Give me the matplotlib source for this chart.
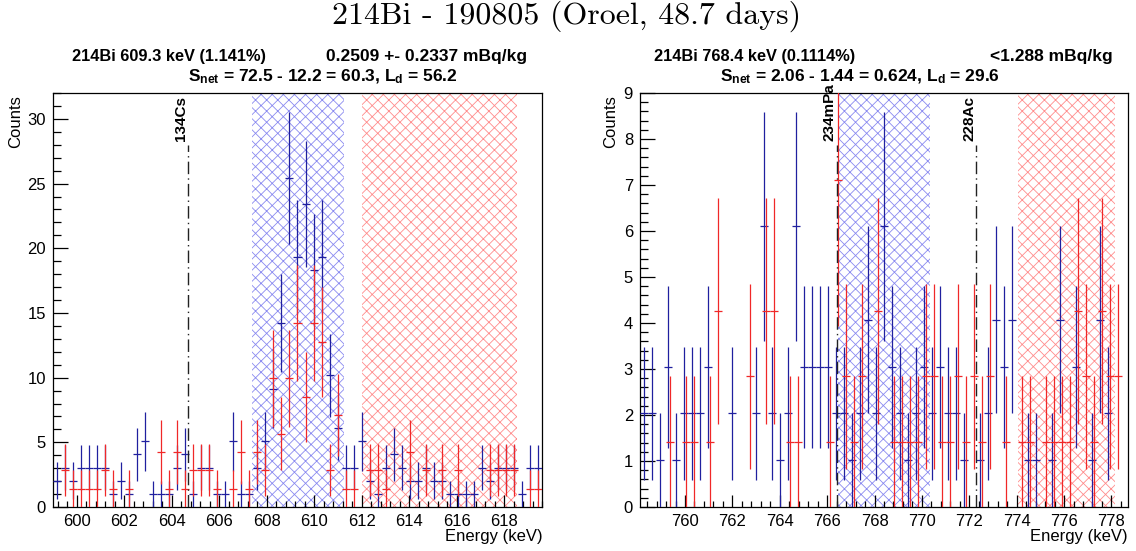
import numpy as np
import matplotlib
matplotlib.use('Agg')
import matplotlib.pyplot as plt
from matplotlib.ticker import MultipleLocator

plt.rcParams['font.family'] = ['Liberation Sans', 'DejaVu Sans']
plt.rcParams['mathtext.fontset'] = 'custom'
plt.rcParams['mathtext.rm'] = 'Liberation Sans'
plt.rcParams['mathtext.bf'] = 'Liberation Sans:bold'
plt.rcParams['mathtext.default'] = 'bf'
plt.rcParams['hatch.linewidth'] = 0.6

# ---------------- data ----------------
suptitle = '214Bi - 190805 (Oroel, 48.7 days)'

bin_width = 0.3377          # keV per bin
blue_scale = 1.017          # sample spectrum scaling
red_scale = 1.42            # background spectrum scaling

# Left panel: 609.3 keV
L_lo = 599.0
L_xlim = (599.0, 619.6)
L_ylim = (0, 32)
L_blue = [2, 3, 2, 3, 3, 3, 3, 1, 2, 1,
          4, 5, 1, 1, 1, 3, 4, 1, 3, 3,
          1, 1, 5, 1, 1, 3, 5, 9, 14, 25,
          19, 23, 18, 19, 10, 6, 3, 3, 5, 2,
          1, 3, 4, 3, 2, 2, 3, 2, 2, 1,
          1, 1, 1, 3, 2, 3, 3, 3, 1, 3,
          3]
L_red = [0, 2, 1, 1, 1, 1, 2, 1, 0, 1,
         0, 0, 0, 3, 1, 3, 1, 2, 2, 2,
         1, 0, 1, 3, 1, 3, 2, 7, 4, 7,
         10, 6, 10, 9, 2, 5, 1, 1, 0, 2,
         2, 1, 0, 0, 3, 0, 2, 0, 2, 0,
         2, 0, 0, 0, 2, 2, 2, 2, 0, 1,
         1]
L_red_shift = 0.0
L_peak_band = (607.4, 611.25)
L_bkg_band = (612.0, 618.55)
L_lines = [(604.7, '134Cs')]
L_head_left = '214Bi 609.3 keV (1.141%)'
L_head_right = '0.2509 +- 0.2337 mBq/kg'
L_head2 = r'$S_{net}$ = 72.5 - 12.2 = 60.3, $L_{d}$ = 56.2'

# Right panel: 768.4 keV
R_lo = 758.1
R_xlim = (758.1, 778.7)
R_ylim = (0, 9)
R_blue = [2, 2, 1, 3, 1, 2, 2, 2, 3, 0,
          0, 2, 0, 0, 2, 6, 2, 1, 2, 6,
          3, 3, 3, 3, 2, 2, 1, 2, 4, 2,
          6, 3, 2, 1, 2, 3, 2, 3, 2, 2,
          1, 0, 1, 2, 4, 3, 4, 0, 1, 1,
          0, 1, 4, 0, 3, 0, 1, 4, 2, 0,
          0]
R_red = [0, 0, 0, 1, 0, 1, 1, 0, 1, 3,
         0, 0, 0, 2, 0, 3, 3, 0, 1, 1,
         0, 0, 0, 1, 5, 2, 1, 2, 0, 3,
         0, 1, 1, 1, 1, 2, 2, 1, 1, 2,
         1, 2, 1, 2, 0, 1, 0, 1, 1, 0,
         1, 1, 1, 1, 3, 2, 1, 3, 2, 2,
         0]
R_red_shift = 0.07
R_peak_band = (766.45, 770.35)
R_bkg_band = (774.05, 778.15)
R_lines = [(766.4, '234mPa'), (772.3, '228Ac')]
R_head_left = '214Bi 768.4 keV (0.1114%)'
R_head_right = '<1.288 mBq/kg'
R_head2 = r'$S_{net}$ = 2.06 - 1.44 = 0.624, $L_{d}$ = 29.6'

BLUE = '#20209f'
RED = '#f02828'
BLUE_HATCH = '#8a8af0'
RED_HATCH = '#ff8c8c'

W, H = 1136, 551
fig = plt.figure(figsize=(W / 100, H / 100), dpi=100)


def fx(px):
    return px / W


def fy(py):
    return 1 - py / H


def draw_series(ax, lo, counts, scale, shift, color, z):
    n = np.array(counts, dtype=float)
    idx = np.arange(len(n))
    x = lo + shift + bin_width * (idx + 0.5)
    m = n > 0
    ax.errorbar(x[m], n[m] * scale, xerr=bin_width / 2, yerr=np.sqrt(n[m]) * scale,
                fmt='none', ecolor=color, elinewidth=0.9, capsize=0, zorder=z)


def panel(rect, lo, xlim, ylim, blue, red, red_shift, pband, bband, lines,
          ymajor, yminor):
    ax = fig.add_axes(rect)
    ax.set_xlim(*xlim)
    ax.set_ylim(*ylim)
    ax.axvspan(*pband, facecolor='none', edgecolor=BLUE_HATCH, hatch='xxx',
               linewidth=0, zorder=1)
    ax.axvspan(*bband, facecolor='none', edgecolor=RED_HATCH, hatch='xxx',
               linewidth=0, zorder=1)
    draw_series(ax, lo, blue, blue_scale, 0.0, BLUE, 3)
    draw_series(ax, lo, red, red_scale, red_shift, RED, 4)
    for e, lab in lines:
        ax.axvline(e, ymin=0, ymax=0.875, color='#222222', lw=1.0,
                   dashes=(9, 3, 1, 3), zorder=5)
        ax.text(e, ylim[0] + 0.885 * (ylim[1] - ylim[0]), lab, rotation=90,
                ha='right', va='bottom', fontsize=11, fontweight='bold',
                zorder=6)
    ax.xaxis.set_major_locator(MultipleLocator(2))
    ax.xaxis.set_minor_locator(MultipleLocator(0.4))
    ax.yaxis.set_major_locator(MultipleLocator(ymajor))
    ax.yaxis.set_minor_locator(MultipleLocator(yminor))
    ax.tick_params(axis='x', which='major', direction='in', length=9, width=0.9,
                   labelsize=12, pad=5)
    ax.tick_params(axis='x', which='minor', direction='in', length=4.5, width=0.9)
    ax.tick_params(axis='y', which='major', direction='in', length=11, width=0.9,
                   labelsize=12, pad=5)
    ax.tick_params(axis='y', which='minor', direction='in', length=5.5, width=0.9)
    for s in ax.spines.values():
        s.set_linewidth(0.9)
    return ax


axL = panel([fx(53), fy(507), fx(542 - 53), (507 - 93) / H], L_lo, L_xlim, L_ylim,
            L_blue, L_red, L_red_shift, L_peak_band, L_bkg_band, L_lines, 5, 1)
axR = panel([fx(640), fy(507), fx(1128 - 640), (507 - 93) / H], R_lo, R_xlim, R_ylim,
            R_blue, R_red, R_red_shift, R_peak_band, R_bkg_band, R_lines, 1, 0.2)

# titles
fig.text(fx(567), fy(16), suptitle, ha='center', va='center', fontsize=23,
         family=['cmr10', 'DejaVu Serif'])

fig.text(fx(72), fy(57), L_head_left, ha='left', va='center', fontsize=11.8,
         fontweight='bold')
fig.text(fx(527), fy(57), L_head_right, ha='right', va='center', fontsize=12.5,
         fontweight='bold')
fig.text(fx(188), fy(77), L_head2, ha='left', va='center', fontsize=12.5,
         fontweight='bold')

fig.text(fx(654), fy(57), R_head_left, ha='left', va='center', fontsize=11.8,
         fontweight='bold')
fig.text(fx(1113), fy(57), R_head_right, ha='right', va='center', fontsize=12.5,
         fontweight='bold')
fig.text(fx(720), fy(77), R_head2, ha='left', va='center', fontsize=12.5,
         fontweight='bold')

# axis labels (ROOT style placement)
for xpx in (16, 611):
    fig.text(fx(xpx), fy(95), 'Counts', rotation=90, ha='center', va='top',
             fontsize=12)
for xpx in (543, 1128):
    fig.text(fx(xpx), fy(536), 'Energy (keV)', ha='right', va='center',
             fontsize=12)

fig.savefig('out.png', dpi=100)
